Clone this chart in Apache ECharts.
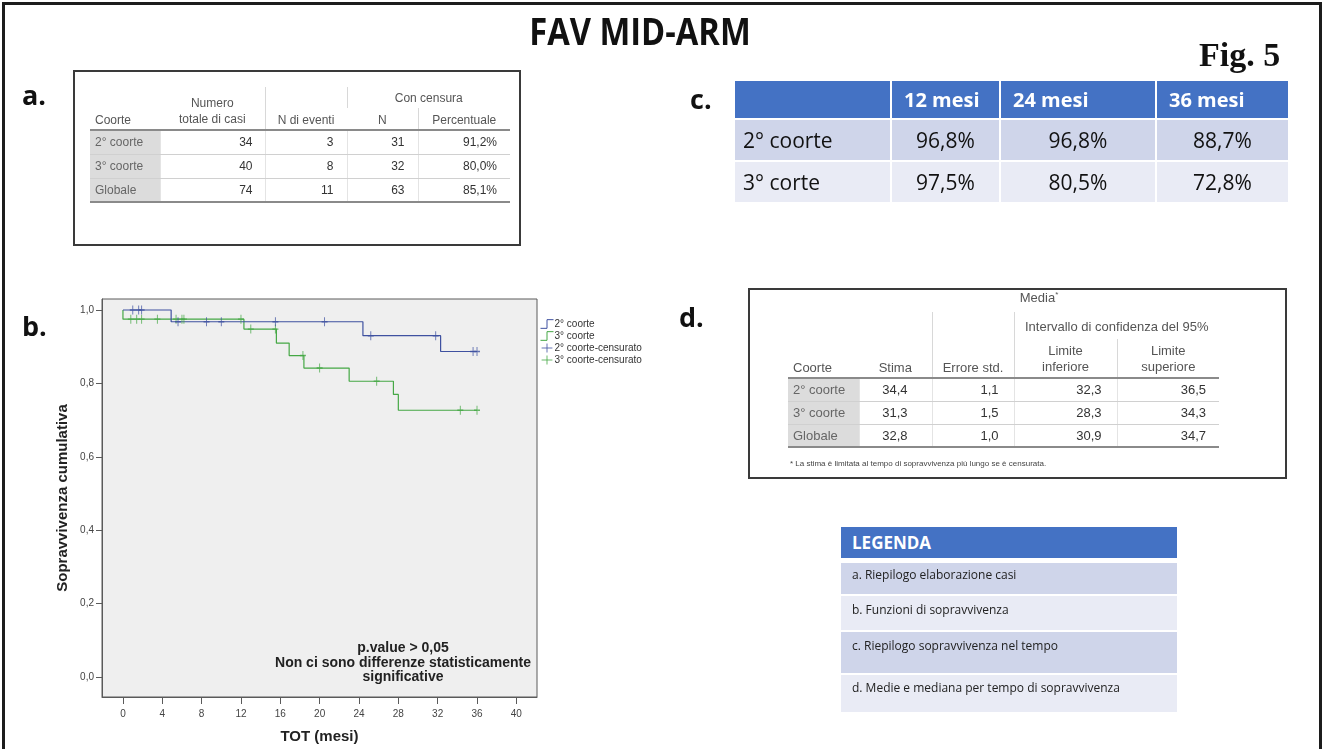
<!DOCTYPE html>
<html>
<head>
<meta charset="utf-8">
<script src="https://cdn.jsdelivr.net/npm/echarts@6/dist/echarts.min.js"></script>
<style>
html,body{margin:0;padding:0;width:1324px;height:749px;overflow:hidden;background:#fff;}
#page{position:relative;width:1324px;height:749px;overflow:hidden;}
#chart{position:absolute;left:0;top:0;width:1324px;height:749px;}
#frame{position:absolute;left:2px;top:2px;width:1314px;height:800px;border:3px solid #1c1c1c;}
#title{position:absolute;left:440px;width:400px;top:7px;text-align:center;font-family:'Open Sans',sans-serif;font-weight:bold;font-size:38px;line-height:46px;color:#111;transform:scaleX(0.86);transform-origin:200px 0;}
#fig{position:absolute;left:1199px;top:35px;font-family:'Liberation Serif',serif;font-weight:bold;font-size:34px;line-height:40px;color:#111;}
.lbl{position:absolute;font-family:'Open Sans',sans-serif;font-weight:bold;font-size:27px;line-height:30px;color:#111;}
.box{position:absolute;border:2px solid #3a3a3a;box-sizing:border-box;}
.spss{position:absolute;border-collapse:collapse;table-layout:fixed;font-family:'Liberation Sans',Arial,sans-serif;color:#555;}
.spss td{padding:0 5px;white-space:nowrap;overflow:hidden;}
.spss td.c{text-align:center;}
.spss td.l{text-align:left;}
.spss td.r{text-align:right;color:#333;}
.spss td.b{vertical-align:bottom;padding-bottom:2px;}
.spss td.vs{border-left:1px solid #d8d8d8;}
.spss td.sh{background:#dcdcdc;color:#666;}
.spss tr.first td{border-top:2px solid #8a8a8a;}
.spss tr.body td{border-bottom:1px solid #d0d0d0;}
.spss tr.last td{border-bottom:2px solid #8a8a8a;}
.spss tr.body td + td{border-left:1px solid #e4e4e4;}
#tC{position:absolute;left:735px;top:81px;font-family:'Open Sans',sans-serif;}
.crow{position:absolute;left:0;height:40px;}
.ccell{position:absolute;top:0;height:100%;box-sizing:border-box;display:flex;align-items:center;}
#pv{position:absolute;left:203px;width:400px;top:640px;text-align:center;font-family:'Liberation Sans',Arial,sans-serif;font-weight:bold;font-size:14px;line-height:14.5px;color:#222;}
#foot{position:absolute;left:790px;top:459px;font-family:'Liberation Sans',Arial,sans-serif;font-size:8px;color:#444;}
#leg{position:absolute;left:841px;top:527px;width:336px;font-family:'Open Sans',sans-serif;}
.lrow{position:absolute;left:0;width:336px;box-sizing:border-box;padding-left:11px;font-size:12px;color:#222;}
</style>
</head>
<body>
<div id="page">
  <div id="chart"></div>
  <div id="frame"></div>
  <div id="title">FAV MID-ARM</div>
  <div id="fig">Fig. 5</div>
  <div class="lbl" style="left:22px;top:80px;">a.</div>
  <div class="lbl" style="left:22px;top:311px;">b.</div>
  <div class="lbl" style="left:690px;top:84px;">c.</div>
  <div class="lbl" style="left:679px;top:302px;">d.</div>
  <div class="box" style="left:73px;top:70px;width:448px;height:176px;"></div>
  <table id="tA" class="spss" style="left:90px;top:87px;width:420px;font-size:12px;"></table>
  <div id="tC"></div>
  <div class="box" style="left:748px;top:288px;width:539px;height:191px;"></div>
  <table id="tD" class="spss" style="left:788px;top:288px;width:431px;font-size:13px;"></table>
  <div id="foot"></div>
  <div id="leg"></div>
  <div id="pv"></div>
</div>
<script>
// ---------- data ----------
const cohortsA = ['2° coorte', '3° coorte', 'Globale'];
const totalCases = [34, 40, 74];
const nEvents = [3, 8, 11];
const nCensored = [31, 32, 63];
const pctCensored = ['91,2%', '80,0%', '85,1%'];

const survPeriods = ['12 mesi', '24 mesi', '36 mesi'];
const survCohorts = ['2° coorte', '3° corte'];
const surv2 = ['96,8%', '96,8%', '88,7%'];
const surv3 = ['97,5%', '80,5%', '72,8%'];

const meanCohorts = ['2° coorte', '3° coorte', 'Globale'];
const meanEstimate = ['34,4', '31,3', '32,8'];
const meanStdErr = ['1,1', '1,5', '1,0'];
const meanLower = ['32,3', '28,3', '30,9'];
const meanUpper = ['36,5', '34,3', '34,7'];
const meanFootnote = '* La stima è limitata al tempo di sopravvivenza più lungo se è censurata.';

const legendTitle = 'LEGENDA';
const legendItems = ['a. Riepilogo elaborazione casi', 'b. Funzioni di sopravvivenza', 'c. Riepilogo sopravvivenza nel tempo', 'd. Medie e mediana per tempo di sopravvivenza'];

const pValueText = ['p.value > 0,05', 'Non ci sono differenze statisticamente', 'significative'];

const seriesNames = ['2° coorte', '3° coorte', '2° coorte-censurato', '3° coorte-censurato'];
const xTicks = [0, 4, 8, 12, 16, 20, 24, 28, 32, 36, 40];
const yTicks = [0, 0.2, 0.4, 0.6, 0.8, 1.0];
// Kaplan-Meier steps [month, survival]
const steps2 = [[0, 1], [4.9, 0.968], [24.4, 0.930], [32.3, 0.887], [36.0, 0.887]];
const steps3 = [[0, 1], [0, 0.975], [12.3, 0.948], [15.6, 0.910], [16.9, 0.876], [18.4, 0.842], [23.0, 0.806], [27.5, 0.770], [28.0, 0.727], [36.0, 0.727]];
// censoring times (months)
const cens2 = [1.0, 1.6, 1.9, 5.6, 8.5, 10.0, 15.5, 20.5, 25.2, 31.8, 35.6, 36.0];
const cens3 = [0.8, 1.4, 1.9, 3.5, 5.4, 6.0, 6.2, 12.0, 13.0, 15.5, 18.3, 20.0, 25.8, 34.3, 36.0];

// ---------- tables ----------
function colgroup(ws){ return '<colgroup>' + ws.map(w => '<col style="width:' + w + 'px">').join('') + '</colgroup>'; }

(function buildA(){
  let h = colgroup([70, 105, 82, 71, 92]);
  h += '<tr style="height:21px"><td rowspan="2" class="l b">Coorte</td><td rowspan="2" class="c b" style="line-height:16px">Numero<br>totale di casi</td><td rowspan="2" class="c b vs">N di eventi</td><td colspan="2" class="c vs">Con censura</td></tr>';
  h += '<tr style="height:22px"><td class="c b">N</td><td class="c b vs">Percentuale</td></tr>';
  cohortsA.forEach((c, i) => {
    const cls = 'body' + (i === 0 ? ' first' : '') + (i === cohortsA.length - 1 ? ' last' : '');
    h += '<tr class="' + cls + '" style="height:24px"><td class="sh">' + c + '</td><td class="r" style="padding-right:12px">' + totalCases[i] + '</td><td class="r" style="padding-right:13px">' + nEvents[i] + '</td><td class="r" style="padding-right:13px">' + nCensored[i] + '</td><td class="r" style="padding-right:13px">' + pctCensored[i] + '</td></tr>';
  });
  document.getElementById('tA').innerHTML = h;
})();

(function buildC(){
  const cols = [[0, 157], [157, 109], [266, 156], [422, 131]];
  const el = document.getElementById('tC');
  let h = '';
  h += '<div class="crow" style="top:0;height:37px;width:553px;">';
  cols.forEach((c, j) => {
    h += '<div class="ccell" style="left:' + c[0] + 'px;width:' + (c[1] - (j < 3 ? 2 : 0)) + 'px;background:#4472c4;color:#fff;font-weight:bold;font-size:20px;padding-left:12px;">' + (j === 0 ? '' : survPeriods[j - 1]) + '</div>';
  });
  h += '</div>';
  const rows = [surv2, surv3];
  rows.forEach((vals, i) => {
    const top = 39 + i * 42;
    const bg = i === 0 ? '#cfd5ea' : '#e9ebf5';
    h += '<div class="crow" style="top:' + top + 'px;height:40px;width:553px;">';
    cols.forEach((c, j) => {
      const txt = j === 0 ? survCohorts[i] : vals[j - 1];
      const align = j === 0 ? 'justify-content:flex-start;padding-left:8px;' : 'justify-content:center;';
      h += '<div class="ccell" style="left:' + c[0] + 'px;width:' + (c[1] - (j < 3 ? 2 : 0)) + 'px;background:' + bg + ';color:#111;font-size:21px;' + align + '">' + txt + '</div>';
    });
    h += '</div>';
  });
  el.innerHTML = h;
})();

(function buildD(){
  let h = colgroup([71, 73, 82, 103, 102]);
  h += '<tr style="height:24px"><td rowspan="3" class="l b">Coorte</td><td colspan="4" class="c" style="vertical-align:top;padding-top:2px;">Media<span style="font-size:8px;vertical-align:top;">*</span></td></tr>';
  h += '<tr style="height:27px"><td rowspan="2" class="c b">Stima</td><td rowspan="2" class="c b vs">Errore std.</td><td colspan="2" class="c b vs" style="padding-bottom:5px;">Intervallo di confidenza del 95%</td></tr>';
  h += '<tr style="height:39px"><td class="c b vs" style="line-height:16px">Limite<br>inferiore</td><td class="c b vs" style="line-height:16px">Limite<br>superiore</td></tr>';
  meanCohorts.forEach((c, i) => {
    const cls = 'body' + (i === 0 ? ' first' : '') + (i === meanCohorts.length - 1 ? ' last' : '');
    h += '<tr class="' + cls + '" style="height:23px"><td class="sh">' + c + '</td><td class="r" style="padding-right:24px">' + meanEstimate[i] + '</td><td class="r" style="padding-right:15px">' + meanStdErr[i] + '</td><td class="r" style="padding-right:15px">' + meanLower[i] + '</td><td class="r" style="padding-right:13px">' + meanUpper[i] + '</td></tr>';
  });
  document.getElementById('tD').innerHTML = h;
  document.getElementById('foot').textContent = meanFootnote;
})();

(function buildLegend(){
  const rows = [[36, 31, '#cfd5ea', 12], [69, 34, '#e9ebf5', 14], [105, 41, '#cfd5ea', 14], [148, 37, '#e9ebf5', 13]];
  let h = '<div class="lrow" style="top:0;height:31px;background:#4472c4;color:#fff;font-weight:bold;font-size:17px;line-height:31px;">' + legendTitle + '</div>';
  legendItems.forEach((t, i) => {
    const r = rows[i];
    h += '<div class="lrow" style="top:' + r[0] + 'px;height:' + r[1] + 'px;background:' + r[2] + ';padding-top:' + (r[3] - 9) + 'px;line-height:18px;">' + t + '</div>';
  });
  document.getElementById('leg').innerHTML = h;
})();

document.getElementById('pv').innerHTML = pValueText.join('<br>');

// ---------- KM chart ----------
const BLUE = '#3f51a0';
const GREEN = '#45a845';
function survAt(steps, t){ let v = steps[0][1]; for (const p of steps) { if (p[0] <= t) v = p[1]; } return v; }
const fmt = v => v.toFixed(1).replace('.', ',');
const chart = echarts.init(document.getElementById('chart'), null, {renderer: 'canvas'});
const axisFont = {color: '#444', fontSize: 10, fontFamily: 'Liberation Sans'};
chart.setOption({
  animation: false,
  grid: {left: 102, top: 299, width: 435, height: 401, show: true, backgroundColor: '#efefef', borderColor: '#5a5a5a', borderWidth: 1},
  xAxis: {
    type: 'value', min: -2.13, max: 42.1,
    axisLine: {show: true, onZero: false, lineStyle: {color: '#5a5a5a'}},
    splitLine: {show: false},
    axisTick: {show: true, customValues: xTicks, length: 7, lineStyle: {color: '#5a5a5a'}},
    axisLabel: Object.assign({customValues: xTicks, margin: 12, formatter: v => String(v)}, axisFont),
    name: 'TOT (mesi)', nameLocation: 'middle', nameGap: 32,
    nameTextStyle: {fontWeight: 'bold', fontSize: 15, color: '#222', fontFamily: 'Liberation Sans'}
  },
  yAxis: {
    type: 'value', min: -0.054, max: 1.03,
    axisLine: {show: true, onZero: false, lineStyle: {color: '#5a5a5a'}},
    splitLine: {show: false},
    axisTick: {show: true, customValues: yTicks, length: 6, lineStyle: {color: '#5a5a5a'}},
    axisLabel: Object.assign({customValues: yTicks, margin: 8, formatter: v => fmt(v)}, axisFont),
    name: 'Sopravvivenza cumulativa', nameLocation: 'middle', nameGap: 32,
    nameTextStyle: {fontWeight: 'bold', fontSize: 15, color: '#222', fontFamily: 'Liberation Sans'}
  },
  legend: {
    orient: 'vertical', left: 540, top: 319, padding: 0, itemGap: 2, itemWidth: 13, itemHeight: 9,
    textStyle: {fontSize: 10, color: '#333', fontFamily: 'Liberation Sans', padding: [0, 0, 0, -4]},
    data: [
      {name: seriesNames[0], icon: 'path://M0,9L6,9L6,1L12,1', itemStyle: {color: 'rgba(0,0,0,0)', borderColor: BLUE, borderWidth: 1}},
      {name: seriesNames[1], icon: 'path://M0,9L6,9L6,1L12,1', itemStyle: {color: 'rgba(0,0,0,0)', borderColor: GREEN, borderWidth: 1}},
      {name: seriesNames[2], icon: 'path://M0,5L12,5M6,0L6,10', itemStyle: {color: 'rgba(0,0,0,0)', borderColor: BLUE, borderWidth: 1}},
      {name: seriesNames[3], icon: 'path://M0,5L12,5M6,0L6,10', itemStyle: {color: 'rgba(0,0,0,0)', borderColor: GREEN, borderWidth: 1}}
    ]
  },
  series: [
    {name: seriesNames[0], type: 'line', step: 'end', data: steps2, symbol: 'none', lineStyle: {color: BLUE, width: 1.2}, itemStyle: {color: BLUE}, z: 3},
    {name: seriesNames[1], type: 'line', step: 'end', data: steps3, symbol: 'none', lineStyle: {color: GREEN, width: 1.2}, itemStyle: {color: GREEN}, z: 2},
    {name: seriesNames[2], type: 'scatter', data: cens2.map(t => [t, survAt(steps2, t)]), symbol: 'path://M5,0L5,10M0,5L10,5', symbolSize: [6, 9], itemStyle: {color: 'rgba(0,0,0,0)', borderColor: BLUE, borderWidth: 1.1}, z: 5},
    {name: seriesNames[3], type: 'scatter', data: cens3.map(t => [t, survAt(steps3, t)]), symbol: 'path://M5,0L5,10M0,5L10,5', symbolSize: [6, 9], itemStyle: {color: 'rgba(0,0,0,0)', borderColor: GREEN, borderWidth: 1.1}, z: 4}
  ]
});
</script>
</body>
</html>
